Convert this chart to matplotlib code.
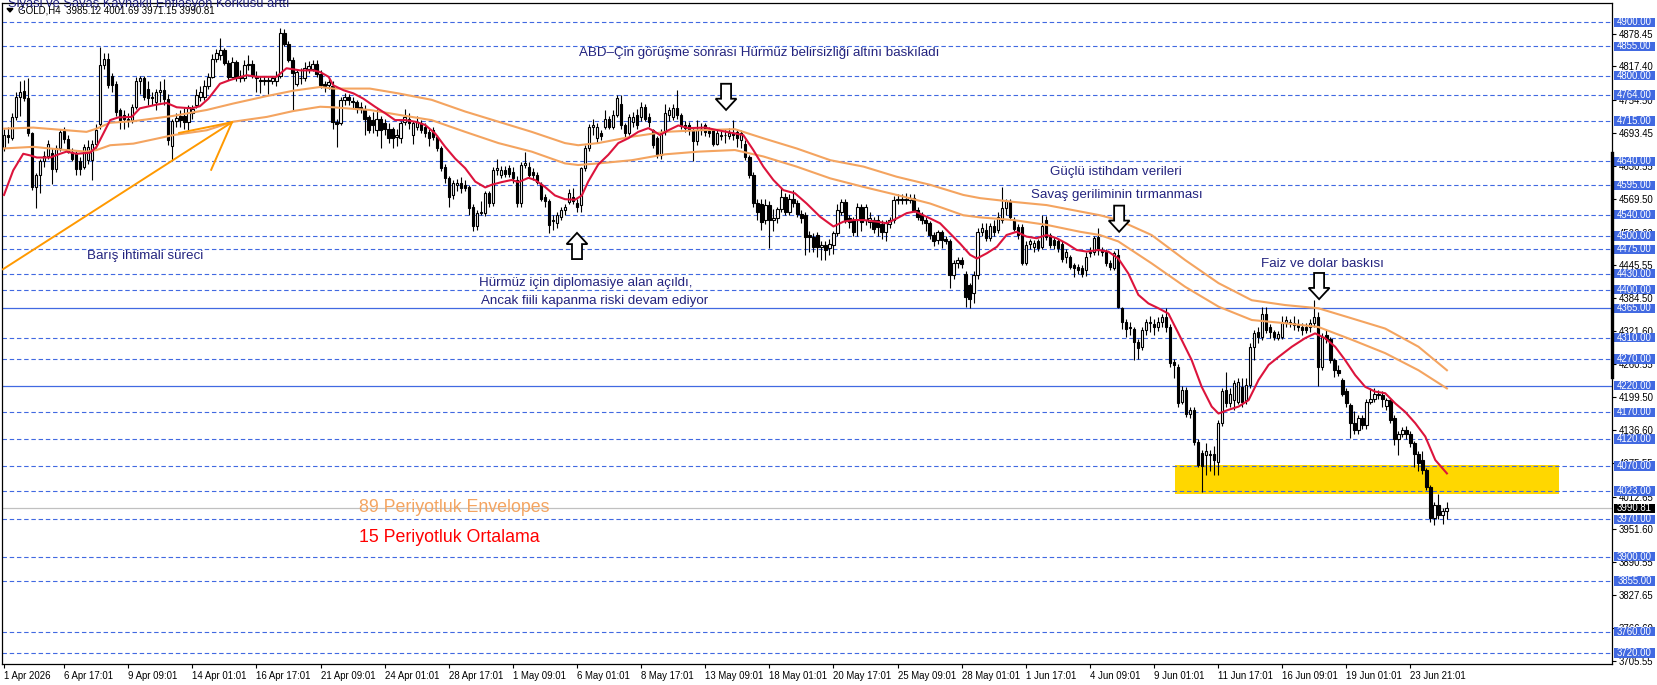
import matplotlib
matplotlib.use("Agg")
import matplotlib.pyplot as plt
import matplotlib.transforms as mtransforms
from matplotlib.patches import Rectangle, Polygon
import numpy as np

plt.rcParams['font.family'] = ['Liberation Sans', 'DejaVu Sans']
plt.rcParams['lines.scale_dashes'] = False

# ---------------- data (GOLD, H4) ----------------
opens = [4665,4690,4683,4723,4760,4772,4758,4692,4592,4614,4640,4650,4655,4626,4664,4697,4682,4658,4654,4640,
         4630,4642,4642,4673,4710,4820,4832,4800,4785,4736,4726,4720,4717,4742,4790,4795,4775,4760,4750,4770,
         4773,4757,4668,4715,4724,4724,4714,4730,4745,4760,4760,4780,4798,4832,4838,4848,4823,4798,4826,4800,
         4795,4820,4822,4800,4792,4790,4792,4790,4790,4800,4880,4860,4829,4785,4795,4795,4812,4812,4822,4804,
         4785,4782,4780,4714,4712,4754,4760,4752,4750,4741,4738,4722,4718,4698,4720,4711,4700,4700,4685,4683,
         4713,4720,4690,4704,4711,4705,4695,4698,4686,4664,4630,4608,4577,4596,4599,4596,4592,4555,4518,4543,
         4543,4580,4561,4624,4614,4624,4627,4620,4605,4561,4633,4630,4620,4614,4598,4573,4565,4528,4525,4536,
         4549,4564,4574,4562,4558,4627,4664,4705,4683,4692,4705,4720,4705,4727,4748,4708,4692,4714,4726,4723,
         4742,4723,4698,4683,4652,4695,4726,4723,4739,4727,4708,4708,4698,4677,4700,4708,4696,4698,4673,4690,
         4689,4688,4692,4695,4680,4672,4648,4614,4562,4560,4530,4558,4530,4533,4550,4574,4546,4570,4561,4542,
         4540,4502,4499,4502,4480,4483,4477,4483,4505,4546,4564,4533,4530,4530,4555,4530,4527,4530,4530,4523,
         4508,4522,4530,4567,4570,4567,4568,4572,4549,4540,4530,4524,4502,4492,4508,4495,4490,4427,4449,4455,
         4430,4408,4393,4427,4508,4512,4496,4518,4512,4530,4552,4565,4530,4517,4517,4449,4485,4480,4490,4480,
         4530,4502,4492,4490,4486,4461,4461,4446,4443,4440,4436,4468,4471,4499,4474,4471,4449,4440,4465,4365,
         4340,4330,4327,4302,4293,4324,4337,4336,4330,4340,4349,4330,4265,4255,4190,4212,4168,4175,4115,4095,
         4090,4093,4093,4078,4150,4212,4187,4193,4190,4218,4193,4221,4293,4320,4312,4355,4330,4320,4310,4312,
         4337,4340,4337,4335,4330,4330,4330,4337,4349,4255,4315,4308,4268,4250,4230,4210,4184,4150,4137,4159,
         4147,4190,4196,4205,4203,4182,4193,4159,4120,4130,4137,4130,4112,4093,4081,4062,4031,3972,3997,3978,
         3985.12]
highs = [4700,4705,4730,4770,4790,4792,4795,4695,4618,4645,4660,4680,4665,4670,4700,4705,4690,4665,4660,4648,
         4672,4680,4680,4710,4854,4842,4842,4805,4790,4740,4735,4730,4748,4797,4800,4800,4790,4770,4775,4790,
         4793,4765,4720,4730,4735,4740,4745,4745,4775,4780,4792,4805,4840,4850,4870,4852,4830,4835,4830,4810,
         4830,4838,4830,4808,4800,4800,4798,4800,4808,4889,4888,4865,4835,4812,4815,4825,4828,4830,4830,4810,
         4790,4795,4790,4720,4760,4768,4765,4760,4755,4750,4745,4726,4733,4738,4725,4720,4712,4705,4700,4715,
         4738,4730,4715,4725,4718,4712,4700,4705,4690,4668,4635,4612,4605,4606,4610,4605,4596,4560,4548,4565,
         4585,4585,4630,4645,4632,4632,4633,4630,4612,4638,4658,4638,4628,4620,4602,4578,4570,4540,4545,4555,
         4560,4588,4590,4570,4630,4670,4710,4720,4712,4698,4735,4725,4735,4764,4764,4712,4728,4732,4738,4750,
         4748,4730,4700,4688,4700,4748,4742,4748,4773,4730,4715,4714,4705,4717,4712,4712,4705,4700,4698,4700,
         4700,4702,4717,4700,4698,4680,4652,4620,4570,4570,4570,4565,4550,4555,4590,4580,4578,4586,4567,4548,
         4545,4510,4505,4508,4490,4490,4495,4510,4560,4570,4570,4540,4535,4562,4560,4560,4545,4535,4540,4530,
         4530,4535,4575,4578,4578,4580,4578,4578,4555,4545,4535,4528,4508,4512,4512,4500,4495,4455,4460,4460,
         4435,4412,4435,4515,4525,4525,4525,4530,4545,4592,4570,4570,4535,4522,4522,4490,4495,4492,4495,4540,
         4537,4505,4498,4495,4490,4475,4465,4450,4448,4445,4470,4480,4500,4515,4480,4475,4455,4472,4475,4368,
         4345,4340,4330,4308,4330,4345,4350,4345,4348,4355,4365,4335,4270,4260,4220,4218,4180,4180,4120,4100,
         4112,4100,4108,4156,4215,4245,4215,4230,4235,4235,4235,4300,4325,4330,4368,4368,4335,4325,4322,4350,
         4350,4345,4350,4345,4338,4338,4345,4380,4358,4318,4325,4312,4272,4258,4235,4215,4188,4172,4165,4165,
         4195,4215,4215,4212,4210,4198,4198,4165,4135,4142,4145,4135,4116,4098,4097,4066,4035,4003,4017,3992,
         4001.69]
lows = [4660,4675,4680,4718,4725,4752,4688,4586,4552,4580,4630,4645,4598,4620,4660,4675,4655,4640,4614,4615,
        4625,4635,4605,4665,4700,4812,4778,4770,4725,4700,4700,4705,4712,4738,4765,4755,4745,4745,4735,4750,
        4745,4670,4642,4705,4705,4700,4698,4720,4740,4752,4755,4775,4795,4825,4830,4820,4792,4795,4790,4788,
        4790,4810,4795,4770,4768,4782,4765,4785,4780,4795,4855,4825,4736,4780,4785,4790,4805,4808,4798,4778,
        4770,4775,4700,4667,4708,4745,4745,4740,4730,4730,4690,4692,4692,4688,4664,4690,4675,4664,4668,4675,
        4708,4700,4673,4698,4692,4685,4668,4680,4660,4622,4600,4555,4570,4585,4580,4585,4540,4510,4511,4540,
        4538,4555,4556,4615,4608,4610,4610,4600,4555,4555,4628,4610,4605,4598,4565,4555,4505,4511,4515,4530,
        4540,4560,4560,4545,4545,4622,4660,4690,4675,4680,4700,4700,4700,4722,4700,4685,4690,4705,4700,4715,
        4715,4705,4665,4646,4645,4690,4715,4718,4720,4700,4695,4690,4640,4670,4690,4688,4685,4668,4670,4680,
        4675,4682,4680,4667,4665,4642,4608,4555,4530,4512,4522,4477,4510,4525,4545,4540,4540,4555,4535,4525,
        4465,4470,4470,4460,4455,4455,4465,4467,4500,4540,4525,4515,4500,4500,4510,4520,4515,4505,4500,4495,
        4490,4515,4525,4560,4560,4560,4562,4545,4530,4522,4510,4495,4482,4485,4478,4485,4402,4420,4440,4440,
        4368,4365,4375,4420,4500,4490,4490,4500,4505,4525,4540,4530,4510,4495,4445,4445,4475,4470,4472,4475,
        4492,4478,4475,4470,4452,4450,4438,4424,4430,4424,4425,4460,4465,4465,4462,4444,4437,4436,4365,4327,
        4312,4315,4268,4270,4287,4315,4320,4315,4322,4330,4320,4255,4234,4180,4185,4162,4160,4110,4068,4022,
        4053,4060,4053,4053,4145,4180,4180,4175,4185,4180,4185,4215,4268,4300,4305,4318,4310,4305,4305,4308,
        4330,4330,4325,4322,4315,4318,4320,4330,4220,4250,4300,4262,4237,4238,4200,4180,4122,4130,4130,4140,
        4140,4185,4190,4195,4180,4175,4150,4110,4090,4125,4120,4105,4068,4060,4055,4025,3966,3960,3970,3962,
        3971.15]
closes = [4690,4685,4723,4760,4770,4758,4692,4592,4614,4640,4650,4673,4626,4664,4695,4682,4658,4645,4626,4626,
          4667,4667,4673,4698,4820,4832,4782,4782,4732,4717,4720,4717,4742,4790,4795,4760,4758,4758,4770,4773,
          4757,4680,4715,4721,4717,4714,4742,4738,4764,4770,4780,4798,4832,4842,4848,4823,4798,4826,4795,4795,
          4820,4822,4800,4795,4790,4792,4790,4795,4800,4880,4860,4829,4805,4807,4795,4815,4818,4822,4804,4782,
          4780,4788,4714,4710,4754,4760,4754,4750,4738,4738,4720,4699,4708,4720,4698,4700,4683,4683,4690,4711,
          4722,4712,4711,4714,4698,4693,4683,4686,4664,4627,4608,4574,4599,4599,4590,4590,4552,4518,4543,4546,
          4580,4561,4624,4627,4624,4617,4617,4608,4561,4633,4636,4614,4614,4602,4570,4565,4521,4530,4540,4549,
          4555,4580,4565,4555,4627,4664,4705,4708,4705,4688,4720,4705,4727,4758,4708,4692,4723,4723,4708,4742,
          4720,4714,4670,4652,4695,4730,4736,4739,4727,4708,4702,4698,4677,4698,4698,4695,4692,4673,4692,4688,
          4690,4692,4690,4683,4692,4648,4614,4562,4546,4527,4558,4530,4533,4550,4574,4546,4570,4561,4542,4533,
          4499,4499,4480,4480,4483,4474,4486,4505,4549,4564,4530,4527,4508,4555,4527,4555,4533,4514,4517,4508,
          4524,4530,4567,4570,4567,4570,4572,4549,4536,4530,4524,4502,4490,4508,4492,4490,4427,4449,4455,4447,
          4386,4383,4427,4508,4515,4496,4518,4508,4536,4552,4565,4536,4514,4502,4449,4483,4490,4487,4477,4518,
          4499,4483,4483,4477,4458,4470,4443,4440,4436,4430,4461,4470,4496,4474,4471,4449,4443,4468,4368,4340,
          4327,4328,4302,4290,4324,4340,4340,4330,4340,4349,4330,4262,4258,4187,4212,4168,4175,4115,4072,4069,
          4097,4090,4081,4150,4210,4187,4205,4225,4227,4190,4221,4293,4318,4312,4355,4324,4320,4312,4317,4337,
          4343,4337,4334,4330,4324,4324,4337,4349,4255,4312,4308,4268,4250,4243,4205,4187,4150,4137,4159,4147,
          4190,4196,4205,4203,4196,4193,4156,4120,4130,4137,4130,4112,4093,4075,4062,4031,3972,3997,3978,3986,
          3990.81]

# 15-period moving average, x = bar index
ma_x = [0,2.3,4.8,6.5,8.2,11.5,14,15.6,18.1,21.5,23.1,24.8,26.5,28.5,31.9,33.9,38.1,40.6,43.1,46.8,48.9,51,53.9,
        56.4,60.6,63.1,68,70.5,73.9,77.2,78.9,81,82.2,84.7,87.2,89.7,92.6,95.1,97.6,100.1,102.6,105.1,107.6,
        110.1,112.6,115.1,117.6,120.1,121.7,124.2,126.7,128.4,130.9,132.5,135,137.5,140,142.5,144.2,145.8,148.3,
        150.8,153.3,155.8,158.3,160.8,162.5,163.7,165.8,168.3,170.8,175,177.5,182.4,184.5,187,189.5,192,194.5,
        197.4,200.3,203.7,207,209.5,212,214.5,217.8,220.3,222.8,225.3,227.4,230.3,233.6,236.1,238.6,241.1,242.8,
        245.3,247.8,250.2,252.7,255.2,257.7,260.2,262.7,265.2,267.7,270.2,273.1,275.6,278.1,280.6,283.1,285.6,
        288.1,290.6,293.1,296.4,298.9,301.4,303.1,305.6,308.1,310.6,313.1,315.6,318.1,321.4,324.7,327.2,329.7,
        332.2,334.7,337.2,339.7,342.2,344.7,347.2,349.7,352.2,354.7,357.2,360.1]
ma_y = [4577,4623,4654,4651,4647,4647,4654,4658,4654,4656,4667,4692,4717,4722,4723,4739,4746,4749,4741,4739,4743,
        4757,4785,4792,4801,4798,4798,4814,4810,4810,4807,4798,4782,4773,4767,4757,4742,4730,4717,4717,4714,4708,
        4692,4667,4645,4627,4602,4591,4596,4601,4605,4601,4609,4605,4592,4576,4569,4568,4576,4602,4634,4652,4674,
        4683,4695,4702,4695,4689,4698,4707,4702,4703,4699,4692,4689,4661,4630,4605,4586,4580,4561,4536,4518,4527,
        4530,4530,4527,4524,4533,4543,4546,4536,4524,4505,4486,4465,4458,4468,4480,4502,4508,4499,4496,4502,4496,
        4486,4474,4471,4474,4471,4458,4430,4390,4374,4365,4355,4318,4268,4218,4181,4168,4175,4181,4193,4231,4259,
        4274,4293,4309,4318,4309,4293,4268,4240,4218,4209,4206,4187,4171,4150,4125,4081,4056]

# 89-period envelopes
env_x = [0,7.3,14,20.6,23.1,26.5,32.3,42.3,50.6,57.2,65.6,72.2,78.9,82.2,87.2,91.3,98.4,106.7,115.1,123.4,131.7,
         140,143.3,148.3,156.7,165,173.3,182.4,189.5,197.8,206.2,214.5,222.8,231.1,239.4,243.6,251.9,260.2,268.6,
         273.5,278.1,286.4,294.8,303.1,311.4,319.7,328,336.4,344.7,353,360.1]
env_upper = [4701,4703,4699,4695,4701,4712,4715,4725,4736,4748,4762,4772,4779,4776,4776,4776,4767,4755,4733,4714,
             4695,4674,4670,4674,4686,4695,4698,4700,4683,4664,4642,4630,4611,4596,4577,4571,4564,4558,4546,4539,
             4530,4502,4455,4412,4380,4371,4365,4346,4327,4293,4249]
env_lower = [4664,4667,4662,4658,4661,4670,4673,4689,4698,4714,4723,4734,4742,4741,4738,4736,4727,4717,4695,4674,
             4658,4636,4633,4636,4642,4653,4658,4661,4649,4630,4608,4592,4577,4561,4539,4535,4530,4521,4508,4502,
             4490,4449,4405,4368,4343,4337,4330,4306,4281,4249,4215]

x_tick_bars = [0,15,31,47,63,79,95,111,127,143,159,175,191,207,223,239,255,271,287,303,319,335,351]
x_tick_labels = ["1 Apr 2026","6 Apr 17:01","9 Apr 09:01","14 Apr 01:01","16 Apr 17:01","21 Apr 09:01",
                 "24 Apr 01:01","28 Apr 17:01","1 May 09:01","6 May 01:01","8 May 17:01","13 May 09:01",
                 "18 May 01:01","20 May 17:01","25 May 09:01","28 May 01:01","1 Jun 17:01","4 Jun 09:01",
                 "9 Jun 01:01","11 Jun 17:01","16 Jun 09:01","19 Jun 01:01","23 Jun 21:01"]

price_ticks = [4878.45,4817.40,4754.50,4693.45,4630.55,4569.50,4506.60,4445.55,4384.50,4321.60,4260.55,
               4199.50,4136.60,4075.55,4012.65,3951.60,3890.55,3827.65,3766.60,3705.55]
levels_dashed = [4900,4855,4800,4764,4715,4640,4595,4540,4500,4475,4430,4400,4310,4270,4170,4120,4070,4023,
                 3970,3900,3855,3760,3720]
levels_solid = [4365,4220]
last_price = 3990.81
support_zone = (4017, 4071, 292.2, 388.1)   # price low, price high, bar start, bar end

# hand-drawn trend arrow (bar index, price)
trend_x = [-0.25, 56.9]
trend_y = [4438, 4713]
trend_head_x = [[43.7, 56.9], [51.7, 56.9]]
trend_head_y = [[4693, 4713], [4624, 4713]]

# ---------------- figure ----------------
W, H = 1658, 685
fig = plt.figure(figsize=(W / 100, H / 100), dpi=100)
fig.patch.set_facecolor('white')
ax = fig.add_axes([2 / W, 21 / H, 1610 / W, 661 / H])
ax.set_xlim(-0.5, 401.3)
ax.set_ylim(3699.4, 4936.1)
for s in ax.spines.values():
    s.set_color('black')
    s.set_linewidth(0.9)

BLUE = '#4169E1'
NAVY = '#23237E'

# horizontal levels
for lv in levels_dashed:
    ax.axhline(lv, color=BLUE, lw=0.8, dashes=(3.2, 2.0), zorder=2)
for lv in levels_solid:
    ax.axhline(lv, color=BLUE, lw=0.9, zorder=2)
ax.axhline(last_price, color='#C0C0C0', lw=0.9, zorder=2)

# support zone
z_lo, z_hi, z_x0, z_x1 = support_zone
ax.add_patch(Rectangle((z_x0, z_lo), z_x1 - z_x0, z_hi - z_lo, facecolor='#FFD700',
                       edgecolor='none', zorder=1))

# candles
o = np.array(opens, float); h = np.array(highs, float)
l = np.array(lows, float); c = np.array(closes, float)
idx = np.arange(len(c))
ax.vlines(idx, l, h, color='black', lw=0.8, zorder=3)
bull = c >= o
bot = np.minimum(o, c)
hgt = np.maximum(np.abs(c - o), 0.6)
ax.bar(idx[bull], hgt[bull], bottom=bot[bull], width=0.6, color='white',
       edgecolor='black', linewidth=0.8, zorder=4)
ax.bar(idx[~bull], hgt[~bull], bottom=bot[~bull], width=0.6, color='black',
       edgecolor='black', linewidth=0.8, zorder=4)

# indicator lines
ax.plot(env_x, env_upper, color='#F4A460', lw=1.5, zorder=5)
ax.plot(env_x, env_lower, color='#F4A460', lw=1.5, zorder=5)
ax.plot(ma_x, ma_y, color='#DC143C', lw=1.5, zorder=6)

# hand drawn orange arrow lines
OR = '#FF9900'
ax.plot(trend_x, trend_y, color=OR, lw=1.4, zorder=6)
for hx, hy in zip(trend_head_x, trend_head_y):
    ax.plot(hx, hy, color=OR, lw=1.4, zorder=6)

# hollow arrows (x in bars, y in price; size in bars / price units)
def hollow_arrow(xc, tip, down=True):
    hw, sw = 2.6, 1.25      # head half width, shaft half width (bars)
    hl, tl = 21.0, 49.0     # head length, total length (price)
    sgn = 1 if down else -1
    base = tip + sgn * hl
    top = tip + sgn * tl
    pts = [(xc, tip), (xc - hw, base), (xc - sw, base), (xc - sw, top),
           (xc + sw, top), (xc + sw, base), (xc + hw, base)]
    ax.add_patch(Polygon(pts, closed=True, facecolor='white', edgecolor='black',
                         lw=1.3, zorder=7))

hollow_arrow(180.2, 4736, True)
hollow_arrow(278.3, 4508, True)
hollow_arrow(328.2, 4382, True)
hollow_arrow(143.0, 4506, False)

# annotations
tk = dict(color=NAVY, fontsize=9.6, zorder=8)
ax.text(188.4, 4842.6, "ABD–Çin görüşme sonrası Hürmüz belirsizliği altını baskıladı",
        ha='center', va='center', **tk)
ax.text(261.0, 4619, "Güçlü istihdam verileri", ha='left', va='center', **tk)
ax.text(256.3, 4577, "Savaş geriliminin tırmanması", ha='left', va='center', **tk)
ax.text(313.7, 4448, "Faiz ve dolar baskısı", ha='left', va='center', **tk)
ax.text(20.7, 4463, "Barış ihtimali süreci", ha='left', va='center', **tk)
ax.text(118.5, 4412, "Hürmüz için diplomasiye alan açıldı,", ha='left', va='center', **tk)
ax.text(119.0, 4378.5, "Ancak fiili kapanma riski devam ediyor", ha='left', va='center', **tk)
ax.text(88.6, 3993, "89 Periyotluk Envelopes", ha='left', va='center', color='#F4A460',
        fontsize=12.8, zorder=8)
ax.text(88.6, 3937, "15 Periyotluk Ortalama", ha='left', va='center', color='#FF0000',
        fontsize=12.8, zorder=8)

# x axis
ax.set_xticks(x_tick_bars)
ax.set_xticklabels(x_tick_labels, ha='left', fontsize=6.9)
ax.tick_params(axis='x', direction='out', length=3, width=0.8, pad=2, colors='black')

# y axis (right)
ax.yaxis.tick_right()
ax.set_yticks(price_ticks)
ax.set_yticklabels([f"{p:.2f}" for p in price_ticks], fontsize=6.9)
ax.tick_params(axis='y', direction='out', length=3, width=0.8, pad=2, colors='black')

# right-side level boxes
btr = mtransforms.blended_transform_factory(ax.transAxes, ax.transData)
bx0, bw = 1.0012, 41 / 1610
bh = 17.6
for lv in levels_dashed + levels_solid:
    ax.add_patch(Rectangle((bx0, lv - bh / 2), bw, bh, transform=btr, facecolor=BLUE,
                           edgecolor='none', clip_on=False, zorder=9))
    ax.text(bx0 + bw / 2, lv, f"{lv:.2f}", transform=btr, ha='center', va='center',
            color='white', fontsize=6.9, clip_on=False, zorder=10)
ax.add_patch(Rectangle((bx0, last_price - bh / 2), bw, bh, transform=btr, facecolor='black',
                       edgecolor='none', clip_on=False, zorder=9))
ax.text(bx0 + bw / 2, last_price, f"{last_price:.2f}", transform=btr, ha='center', va='center',
        color='white', fontsize=6.9, clip_on=False, zorder=10)
ax.plot([1.0, 1.0], [4236, 4655], transform=btr, color='black', lw=2.4, clip_on=False, zorder=9)

# header texts
fig.text(8 / W, 1 - 6.5 / H, "Siyasi ve Savaş Kaynaklı Enflasyon Korkusu arttı", color=NAVY,
         fontsize=9.3, va='baseline', ha='left')
fig.add_artist(Polygon([(7 / W, 1 - 8.5 / H), (13 / W, 1 - 8.5 / H), (10 / W, 1 - 12 / H)],
                       closed=True, transform=fig.transFigure, color='black'))
fig.text(18 / W, 1 - 10.5 / H, "GOLD,H4  3985.12 4001.69 3971.15 3990.81", color='black',
         fontsize=7, va='center', ha='left')

fig.savefig("out.png", dpi=100, facecolor='white')
